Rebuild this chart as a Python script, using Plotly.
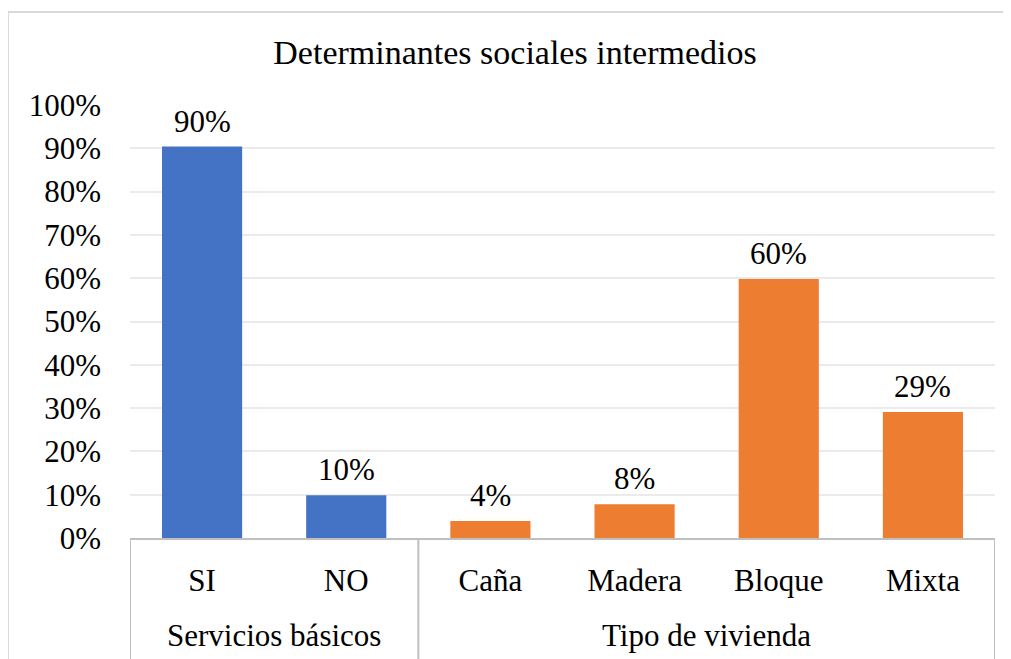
import plotly.graph_objects as go

categories = ["SI", "NO", "Caña", "Madera", "Bloque", "Mixta"]
group_names = ["Servicios básicos", "Tipo de vivienda"]
group_sizes = [2, 4]
values = [0.904, 0.099, 0.039, 0.078, 0.598, 0.291]
colors = ["#4472C4", "#4472C4", "#ED7D31", "#ED7D31", "#ED7D31", "#ED7D31"]
y_ticks = [i / 10 for i in range(11)]
y_tick_labels = [f"{i * 10}%" for i in range(11)]

FONT = "Liberation Serif, Times New Roman, serif"
FS = 31

# page has an 8px body offset; compensate in margins
L, T = 122, 97
PW, PH = 865, 433

fig = go.Figure()
fig.add_trace(go.Bar(
    x=categories,
    y=values,
    marker=dict(color=colors, line=dict(width=0)),
    cliponaxis=False,
))

# data labels
for c, v in zip(categories, values):
    fig.add_annotation(x=c, y=v, xref="x", yref="y", text=f"{round(v * 100)}%",
                       showarrow=False, yanchor="bottom", yshift=6,
                       font=dict(family=FONT, size=FS, color="black"))

# group labels and dividers
start = 0
bounds = [-0.5]
for name, n in zip(group_names, group_sizes):
    center = start + (n - 1) / 2
    fig.add_annotation(x=center, y=0, xref="x", yref="paper", text=name,
                       showarrow=False, yanchor="middle", yshift=-97,
                       font=dict(family=FONT, size=FS, color="black"))
    start += n
    bounds.append(start - 0.5)
for b in bounds:
    fig.add_shape(type="line", xref="x", yref="paper", x0=b, x1=b, y0=0, y1=-0.35,
                  line=dict(color="#BFBFBF", width=2))

fig.update_layout(
    width=1011, height=659,
    margin=dict(l=L, r=1011 - L - PW, t=T, b=659 - T - PH, autoexpand=False),
    paper_bgcolor="white", plot_bgcolor="white",
    font=dict(family=FONT, size=FS, color="black"),
    title=dict(text="Determinantes sociales intermedios", x=(515 - 8) / 1011, xanchor="center",
               y=1 - (52 - 8) / 659, yanchor="middle",
               font=dict(family=FONT, size=34, color="black")),
    bargap=0.444,
    showlegend=False,
)
fig.update_yaxes(
    range=[0, 1], tickvals=y_ticks, ticktext=y_tick_labels,
    showgrid=True, gridcolor="#EBEBEB", gridwidth=2,
    zeroline=False, showline=False, ticks="",
    ticklabelstandoff=28,
    tickfont=dict(family=FONT, size=FS, color="black"),
)
fig.update_xaxes(
    type="category", range=[-0.5, 5.5],
    showline=True, linecolor="#BFBFBF", linewidth=2,
    ticks="", ticklabelstandoff=14,
    tickfont=dict(family=FONT, size=FS, color="black"),
)
fig.add_shape(type="rect", xref="paper", yref="paper",
              x0=(0 - L) / PW, x1=(997 - L) / PW,
              y0=-0.6, y1=(PH + T - 4) / PH,
              line=dict(color="#D9D9D9", width=2), fillcolor="rgba(0,0,0,0)", layer="below")
fig.write_html("out.html")
